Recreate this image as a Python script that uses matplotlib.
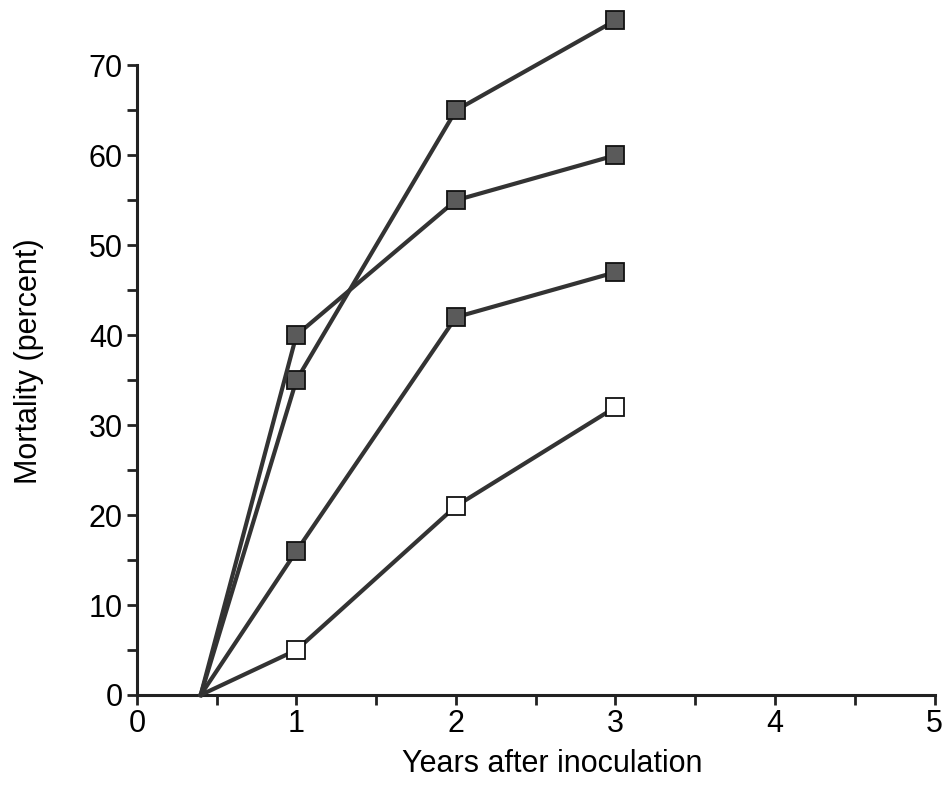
import matplotlib.pyplot as plt
from matplotlib.ticker import MultipleLocator

plt.rcParams["font.family"] = ["Liberation Sans", "DejaVu Sans"]

years = [0.4, 1, 2, 3]
series_a = [0, 35, 65, 75]
series_b = [0, 40, 55, 60]
series_c = [0, 16, 42, 47]
control = [0, 5, 21, 32]

fig = plt.figure(figsize=(9.44, 7.97), dpi=100)
ax = fig.add_axes([0.145, 0.128, 0.845, 0.790])

line_kw = dict(color="#333333", linewidth=3, marker="s", markersize=12.5,
               markeredgecolor="#111111", markeredgewidth=1.3, clip_on=False, zorder=3)
for ys in (series_a, series_b, series_c):
    ax.plot(years, ys, markerfacecolor="#5a5a5a", markevery=[1, 2, 3], **line_kw)
ax.plot(years, control, markerfacecolor="white", markevery=[1, 2, 3], **line_kw)

ax.set_xlim(0, 5)
ax.set_ylim(0, 70)
ax.xaxis.set_major_locator(MultipleLocator(1))
ax.xaxis.set_minor_locator(MultipleLocator(0.5))
ax.yaxis.set_major_locator(MultipleLocator(10))
ax.yaxis.set_minor_locator(MultipleLocator(5))

for s in ("top", "right"):
    ax.spines[s].set_visible(False)
for s in ("left", "bottom"):
    ax.spines[s].set_linewidth(2.2)
    ax.spines[s].set_color("#222222")

ax.tick_params(which="both", direction="out", length=7, width=2, color="#222222",
               labelsize=22, pad=3)

ax.set_xlabel("Years after inoculation", fontsize=22)
ax.set_ylabel("Mortality (percent)", fontsize=22)
ax.xaxis.set_label_coords(0.521, -0.085)
ax.yaxis.set_label_coords(-0.117, 0.53)

fig.savefig("out.png", dpi=100)
